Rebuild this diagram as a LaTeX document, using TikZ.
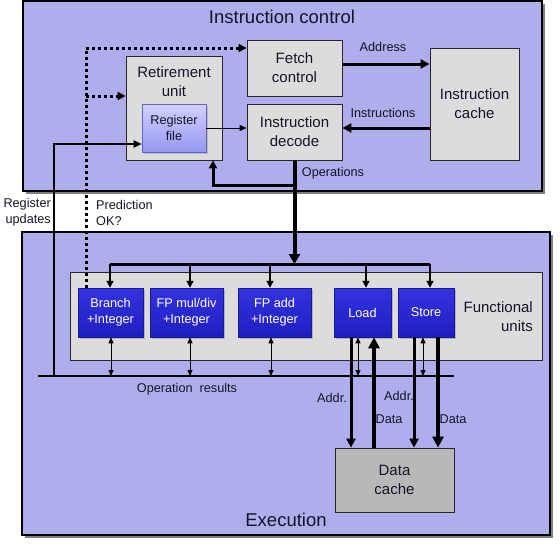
\documentclass[tikz,border=0pt]{standalone}
\usepackage{fontspec}
\setmainfont{Liberation Sans}
\usetikzlibrary{arrows.meta,shadows,calc}
\definecolor{lav}{RGB}{174,174,236}
\definecolor{gfill}{RGB}{220,220,220}
\definecolor{dfill}{RGB}{184,184,184}
\definecolor{txt}{RGB}{20,20,40}
\definecolor{ublueT}{RGB}{52,52,224}
\definecolor{ublueB}{RGB}{30,30,192}
\definecolor{rfT}{RGB}{210,210,255}
\definecolor{rfB}{RGB}{150,150,240}
\newcommand{\fbig}{\fontsize{15}{19}\selectfont}
\newcommand{\fmid}{\fontsize{12.7}{16}\selectfont}
\newcommand{\ftitle}{\fontsize{18.5}{22}\selectfont}
\begin{document}
\begin{tikzpicture}[x=1pt,y=-1pt,
  outerbox/.style={draw=black, line width=2pt, fill=lav, inner sep=0pt,
     drop shadow={shadow xshift=3pt,shadow yshift=-3pt,fill=black!50,opacity=1}},
  gbox/.style={draw=black!85, line width=0.8pt, fill=gfill, align=center, font=\fbig, text=txt, inner sep=0pt},
  unitbox/.style={draw=ublueB!80!black, line width=0.5pt, top color=ublueT, bottom color=ublueB, text=white, align=center, font=\fmid, inner sep=0pt, minimum height=49pt,
     drop shadow={shadow xshift=2pt,shadow yshift=-2pt,fill=black!40,opacity=0.6}},
  lbl/.style={font=\fmid, text=txt, inner sep=0pt},
  thinarr/.style={line width=0.9pt, -{Triangle[length=7pt,width=6pt]}},
  dblarr/.style={line width=0.9pt, {Triangle[length=6pt,width=5pt]}-{Triangle[length=6pt,width=5pt]}},
  droparr/.style={line width=1.5pt, -{Triangle[length=7pt,width=7pt]}},
  thickarr/.style={line width=3pt, -{Triangle[length=9pt,width=9pt]}},
  heavyarr/.style={line width=4pt, -{Triangle[length=11pt,width=11pt]}},
  dotarr/.style={line width=3pt, dash pattern=on 3pt off 3pt, -{Triangle[length=8pt,width=8pt]}}
]
\useasboundingbox (0,0) rectangle (560,549);

% containers
\node[outerbox, minimum width=519pt, minimum height=190pt] (ic) at (282.5,96) {};
\node[outerbox, minimum width=528pt, minimum height=303pt] (ex) at (286,383.5) {};
\node[font=\ftitle, text=txt, inner sep=0pt] (ictitle) at (282,17) {Instruction control};
\node[font=\ftitle, text=txt, inner sep=0pt] (extitle) at (286,520) {Execution};

% instruction control boxes
\node[gbox, minimum width=95pt, minimum height=56pt] (fetch) at (294.5,68) {Fetch\\control};
\node[gbox, minimum width=96pt, minimum height=104pt] (retire) at (174,108) {};
\node[font=\fbig, text=txt, align=center, inner sep=0pt] (retlbl) at (174,81.5) {Retirement\\unit};
\node[draw=ublueB!70, line width=0.6pt, top color=rfT, bottom color=rfB, align=center, font=\fmid, text=txt, inner sep=0pt,
      minimum width=64pt, minimum height=48pt,
      drop shadow={shadow xshift=2pt,shadow yshift=-2pt,fill=black!40,opacity=0.5}] (regfile) at (174,128) {Register\\file};
\node[gbox, minimum width=95pt, minimum height=56pt] (decode) at (294.5,132) {Instruction\\decode};
\node[gbox, minimum width=89pt, minimum height=112pt] (icache) at (474.5,104) {Instruction\\cache};

% functional units container
\node[draw=black!85, line width=0.8pt, fill=gfill, minimum width=472pt, minimum height=88pt, inner sep=0pt] (fu) at (306,316) {};
\node[font=\fbig, text=txt, align=right, inner sep=0pt, anchor=east] (fulbl) at (533,317) {Functional\\units};

\node[unitbox, minimum width=65pt] (branch) at (110.5,312.5) {Branch\\+Integer};
\node[unitbox, minimum width=73pt] (fpmul) at (186.5,312.5) {FP mul/div\\+Integer};
\node[unitbox, minimum width=73pt] (fpadd) at (274.5,312.5) {FP add\\+Integer};
\node[unitbox, minimum width=57pt] (load) at (362.5,312.5) {Load};
\node[unitbox, minimum width=56pt] (store) at (426,312.5) {Store};

\node[gbox, fill=dfill, minimum width=119pt, minimum height=64pt] (dcache) at (394.5,480) {Data\\cache};

% coordinates
\coordinate (dbL) at (110,264);
\coordinate (dbR) at (430,264);
\coordinate (rbL) at (38,376);
\coordinate (rbR) at (454,376);
\coordinate (fbk) at (213,185);
\coordinate (dx) at (86,48);
\coordinate (dy) at (86,96);
\coordinate (ru) at (54,144);

% instruction control connectors
\draw[thickarr] ([yshift=4pt]fetch.east) -- ([yshift=4pt]fetch.east -| icache.west);
\draw[thickarr] (icache.west |- regfile) -- (decode.east |- regfile);
\draw[thinarr] (regfile.east) -- (decode.west |- regfile);
\draw[line width=3pt, -{Triangle[length=8pt,width=8pt]}] (decode.south |- fbk) -- (fbk) -- (fbk |- retire.south);
\draw[line width=4pt, -{Triangle[length=10pt,width=11pt]}] (decode.south) -- (decode.south |- dbL);

% dotted prediction
\draw[dotarr] (branch.north -| dx) -- (dx) -- (dx -| fetch.west);
\draw[dotarr] (dy) -- (dy -| retire.west);

% register updates
\draw[line width=1.8pt, -{Triangle[length=8pt,width=7pt]}] (ru |- rbL) -- (ru) -- (ru -| regfile.west);

% distribution bus
\draw[line width=3pt] (dbL) -- (dbR);
\draw[droparr] (dbL) -- (dbL |- branch.north);
\draw[droparr] ([xshift=3.5pt]fpmul.north |- dbL) -- ([xshift=3.5pt]fpmul.north);
\draw[droparr] ([xshift=-4.5pt]fpadd.north |- dbL) -- ([xshift=-4.5pt]fpadd.north);
\draw[droparr] ([xshift=3.5pt]load.north |- dbL) -- ([xshift=3.5pt]load.north);
\draw[droparr] (dbR) -- (dbR |- store.north);

% operation results bus
\draw[line width=2pt] (rbL) -- (rbR);
\draw[dblarr] ([xshift=0.5pt]branch.south) -- ([xshift=0.5pt]branch.south |- rbL);
\draw[dblarr] ([xshift=3.5pt]fpmul.south) -- ([xshift=3.5pt]fpmul.south |- rbL);
\draw[dblarr] ([xshift=-3.5pt]fpadd.south) -- ([xshift=-3.5pt]fpadd.south |- rbL);
\draw[dblarr] ([xshift=-4.5pt]load.south) -- ([xshift=-4.5pt]load.south |- rbL);
\draw[dblarr] ([xshift=-3pt]store.south) -- ([xshift=-3pt]store.south |- rbL);

% load / store to data cache
\draw[thickarr] ([xshift=-11.5pt]load.south) -- ([xshift=-11.5pt]load.south |- dcache.north);
\draw[heavyarr] ([xshift=11.5pt]load.south |- dcache.north) -- ([xshift=11.5pt]load.south);
\draw[thickarr] ([xshift=-12pt]store.south) -- ([xshift=-12pt]store.south |- dcache.north);
\draw[heavyarr] ([xshift=12pt]store.south) -- ([xshift=12pt]store.south |- dcache.north);

% labels
\node[lbl] (laddr) at (383,47) {Address};
\node[lbl] (linstr) at (383,113) {Instructions};
\node[lbl] (lops) at (333,173) {Operations};
\node[lbl, align=right, anchor=east] (lregup) at (51,212.5) {Register\\updates};
\node[lbl, align=left, anchor=west] (lpred) at (96,212.5) {Prediction\\OK?};
\node[lbl] (lres) at (187,389) {Operation\ \ results};
\node[lbl] (la1) at (332,398) {Addr.};
\node[lbl] (la2) at (399,396) {Addr.};
\node[lbl] (ld1) at (389,419) {Data};
\node[lbl] (ld2) at (453,419) {Data};
\end{tikzpicture}
\end{document}
